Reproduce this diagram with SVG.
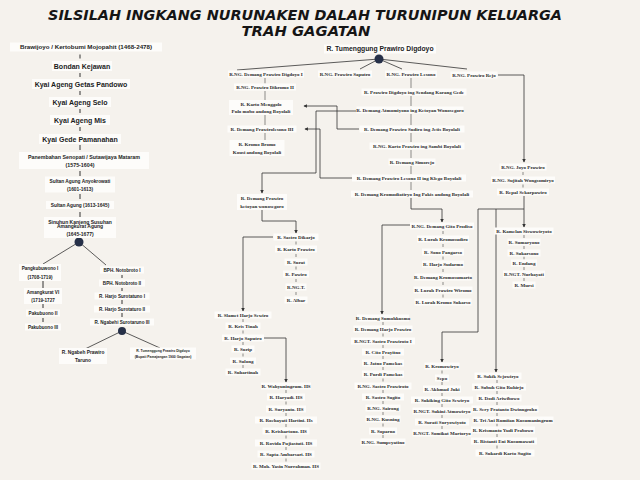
<svg xmlns="http://www.w3.org/2000/svg" width="640" height="480" viewBox="0 0 640 480">
<defs>
<style>
.b{fill:#fdfcfa}
.s{font-family:"Liberation Serif",serif;font-size:5px;font-weight:bold;fill:#2a2a2a;text-anchor:middle}
.l{font-family:"Liberation Sans",Arial,sans-serif;font-weight:bold;fill:#1c1c1c;text-anchor:middle}
.c{stroke:#333;stroke-width:0.8;fill:none}
.a{marker-end:url(#ah)}
.t{stroke:#444;stroke-width:0.6;fill:none}
.tk{stroke:#333;stroke-width:1;fill:none}
.d{fill:#263048}
.ti{font-family:"DejaVu Sans",sans-serif;font-weight:bold;font-style:italic;font-size:14px;fill:#151515;text-anchor:middle}
</style>
<marker id="ah" viewBox="0 0 6 6" refX="5" refY="3" markerUnits="userSpaceOnUse" markerWidth="3.5" markerHeight="3.5" orient="auto"><path d="M0,0 L6,3 L0,6 z" fill="#333"/></marker>
</defs>
<rect width="640" height="480" fill="#f5f2ed"/>
<g id="title">
<text class="ti" x="305" y="20" textLength="514" lengthAdjust="spacingAndGlyphs">SILSILAH INGKANG NURUNAKEN DALAH TURUNIPUN KELUARGA</text>
<text class="ti" x="306" y="36" textLength="129" lengthAdjust="spacingAndGlyphs">TRAH GAGATAN</text>
</g>
<g id="connectors">
<path class="tk" d="M80,54.5V58.5M80,73V77M80,91V95M80,109V113M80,127V131M80,145V150M80,171V176M80,194V199M80,212V217M43,281V288M43,304V308M43,318V322M122,275V278M122,288V291M122,300V304M122,313V317"/>
<path class="c" d="M79,242L43,264M79,242L106,265M122,331L85,349M122,331L160,348"/>
<path class="c" d="M379,59L237,70M379,59L360,69M379,59L402,69M379,59L467,69"/>
<path class="t" d="M411,78V88M411,96V106M411,114V125M411,133V142M411,150V158M411,166V174M411,182V190M265,78V83.5M265,91V100M265,115V125M265,133V140"/>
<path class="t" d="M443,231V234M443,244V247M443,256.5V259.5M443,269V272M443,282V285M443,294.5V297.5M523,172V175M523,184.5V187.5M524,235V238M524,246V249M524,256.5V259.5M524,267V270M524,278V281M442,370.5V373.5M442,382V385M442,393V396M442,404V407M442,415V418M442,426V429M497,380V383M497,391V394M497,402V405M497,413V416M497,423.5V426.5M497,434V437M497,445.5V448.5M296,241.5V244.5M296,254V257M296,266.5V269.5M296,279V282M296,292V295M243,319V322M243,330.5V333.5M243,342V345M243,353.5V356.5M243,365V368M286,390V393M286,401.5V404.5M286,413V416M286,424V427M286,435.5V438.5M286,447V450M286,458.5V461.5M383,322V325M383,333.5V336.5M383,345V348M383,356V359M383,367V370M383,378.5V381.5M383,390V393M383,401V404M383,412V415M383,423.5V426.5M383,435V438"/>
<path class="c a" d="M498,75H524V162"/>
<path class="c a" d="M359,129H337V106H304"/>
<path class="c a" d="M356,111H316V173H262V193"/>
<path class="c a" d="M352,178H320V129H305"/>
<path class="c a" d="M411,198V209H442V222"/>
<path class="c a" d="M410,225H382V314"/>
<path class="c a" d="M524,196V227"/>
<path class="c" d="M478,209H524"/>
<path class="c a" d="M478,209V332H442V362"/>
<path class="c a" d="M496,209V372"/>
<path class="c a" d="M262,210V221H296V233"/>
<path class="c a" d="M273,237H243V311"/>
<path class="c a" d="M264,338H286V382"/>
<circle class="d" cx="79" cy="242" r="4.5"/>
<circle class="d" cx="122" cy="331" r="4"/>
<circle class="d" cx="379" cy="59" r="4.5"/>
</g>
<g id="l1"><rect class="b" x="10" y="42.5" width="152" height="9"/><text class="l" font-size="6.2" x="86" y="49.2">Brawijoyo / Kertobumi Mojopahit (1468-2478)</text></g>
<g id="l2"><rect class="b" x="52" y="61" width="60" height="10"/><text class="l" font-size="7" x="82" y="68.5">Bondan Kejawan</text></g>
<g id="l3"><rect class="b" x="32" y="79" width="98" height="10"/><text class="l" font-size="7" x="81" y="86.5">Kyai Ageng Getas Pandowo</text></g>
<g id="l4"><rect class="b" x="49" y="97" width="62" height="10"/><text class="l" font-size="7" x="80" y="104.5">Kyai Ageng Selo</text></g>
<g id="l5"><rect class="b" x="50" y="115" width="60" height="10"/><text class="l" font-size="7" x="80" y="122.5">Kyai Ageng Mis</text></g>
<g id="l6"><rect class="b" x="39" y="134" width="82" height="10"/><text class="l" font-size="7" x="80" y="141.5">Kyai Gede Pamanahan</text></g>
<g id="l7"><rect class="b" x="19" y="152" width="130" height="17"/><text class="l" font-size="5.3" x="84" y="159">Panembahan Senopati / Sutawijaya Mataram</text><text class="l" font-size="5.3" x="80" y="167">(1575-1604)</text></g>
<g id="l8"><rect class="b" x="45" y="176.5" width="70" height="16"/><text class="l" font-size="4.8" x="80" y="182.7">Sultan Agung Anyokrowati</text><text class="l" font-size="4.8" x="80" y="190.7">(1601-1613)</text></g>
<g id="l9"><rect class="b" x="46" y="201" width="68" height="8"/><text class="l" font-size="4.8" x="80" y="206.7">Sultan Agung (1613-1645)</text></g>
<g id="l10"><rect class="b" x="44" y="217" width="72" height="21"/><text class="l" font-size="5" x="80" y="223.7">Sinuhun Kanjeng Susuhan</text><text class="l" font-size="5" x="80" y="228.2">Amangkurat Agung</text><text class="l" font-size="5" x="80" y="235.7">(1645-1677)</text></g>
<g id="l11"><rect class="b" x="19" y="264" width="42" height="17"/><text class="l" font-size="4.6" x="40" y="269.6">Pangkubuwono I</text><text class="l" font-size="4.6" x="40" y="278.6">(1708-1719)</text></g>
<g id="l12"><rect class="b" x="24" y="288" width="38" height="16"/><text class="l" font-size="4.6" x="43" y="293.6">Amangkurat VI</text><text class="l" font-size="4.6" x="43" y="301.6">(1719-1727</text></g>
<g id="l13"><rect class="b" x="26" y="309.5" width="34" height="7"/><text class="l" font-size="4.6" x="43" y="314.6">Pakubuono II</text></g>
<g id="l14"><rect class="b" x="25" y="323.5" width="36" height="7"/><text class="l" font-size="4.6" x="43" y="328.6">Pakubuono III</text></g>
<g id="r11"><rect class="b" x="100" y="266.5" width="44" height="7"/><text class="l" font-size="4.6" x="122" y="271.6">BPH. Notobroto I</text></g>
<g id="r12"><rect class="b" x="99" y="279.5" width="46" height="7"/><text class="l" font-size="4.6" x="122" y="284.6">BPH. Notobroto II</text></g>
<g id="r13"><rect class="b" x="94.5" y="292.5" width="55" height="7"/><text class="l" font-size="4.6" x="122" y="297.6">R. Harjo Surotatuno I</text></g>
<g id="r14"><rect class="b" x="94" y="305.5" width="56" height="7"/><text class="l" font-size="4.6" x="122" y="310.6">R. Harjo Surotaturo II</text></g>
<g id="r15"><rect class="b" x="90" y="318.5" width="64" height="7"/><text class="l" font-size="4.6" x="122" y="323.6">R. Ngabehi Surotaruno III</text></g>
<g id="r16"><rect class="b" x="59" y="348" width="48" height="16"/><text class="l" font-size="4.8" x="83" y="353.7">R. Ngabeh Prawiro</text><text class="l" font-size="4.8" x="83" y="361.7">Taruno</text></g>
<g id="r17"><rect class="b" x="130" y="347.5" width="66" height="12"/><text class="l" font-size="3.4" x="163" y="352.2">R. Tumenggung Prawiro Digdoyo</text><text class="l" font-size="3.4" x="163" y="358.2">(Bupati Pamajangan 1900 Gagatan)</text></g>
<g id="top"><rect class="b" x="324" y="44.5" width="112" height="9"/><text class="l" font-size="6.8" x="380" y="51.4">R. Tumenggung Prawiro Digdoyo</text></g>
<g id="a1"><rect class="b" x="228" y="70.5" width="76" height="7"/><text class="s" x="266" y="75.8">R.NG. Demang Prawiro Digdoyo I</text></g>
<g id="b1"><rect class="b" x="318" y="70.5" width="54" height="7"/><text class="s" x="345" y="75.8">R.NG. Prawiro Saputro</text></g>
<g id="c1"><rect class="b" x="385" y="70.5" width="52" height="7"/><text class="s" x="411" y="75.8">R.NG. Prawiro Lesono</text></g>
<g id="d1"><rect class="b" x="450.5" y="71.5" width="47" height="7"/><text class="s" x="474" y="76.8">R.NG. Prawiro Rejo</text></g>
<g id="a2"><rect class="b" x="234" y="83.5" width="62" height="7"/><text class="s" x="265" y="88.8">R.NG. Prawiro Dikromo II</text></g>
<g id="a3"><rect class="b" x="229" y="100" width="64" height="15"/><text class="s" x="261" y="105.8">R. Karto Menggolo</text><text class="s" x="261" y="112.8">Pulo mobo andong Boyolali</text></g>
<g id="a4"><rect class="b" x="227.5" y="125.5" width="69" height="7"/><text class="s" x="262" y="130.8">R. Demang Prawirolesono III</text></g>
<g id="a5"><rect class="b" x="229.5" y="140" width="55" height="16"/><text class="s" x="257" y="145.8">R. Kromo Bromo</text><text class="s" x="257" y="153.8">Kousi andong Boyolali</text></g>
<g id="c2"><rect class="b" x="361.5" y="88.5" width="105" height="7"/><text class="s" x="414" y="93.8">R. Prawiro Digdoyo ing Sendang Karang Gede</text></g>
<g id="c3"><rect class="b" x="356.5" y="106.5" width="107" height="7"/><text class="s" x="410" y="111.8">R. Demang Atmomiyono ing Ketoyan Wonosegoro</text></g>
<g id="c4"><rect class="b" x="359.5" y="125.5" width="105" height="7"/><text class="s" x="412" y="130.8">R. Demang Prawiro Sudiro ing Jetis Boyolali</text></g>
<g id="c5"><rect class="b" x="369.5" y="142.5" width="95" height="7"/><text class="s" x="417" y="147.8">R.NG. Karto Prawiro ing Sambi Boyolali</text></g>
<g id="c6"><rect class="b" x="388.5" y="158.5" width="47" height="7"/><text class="s" x="412" y="163.8">R. Demang Simorejo</text></g>
<g id="c7"><rect class="b" x="352" y="174.5" width="114" height="7"/><text class="s" x="409" y="179.8">R. Demang Prawiro Lesono II ing Klego Boyolali</text></g>
<g id="c8"><rect class="b" x="351" y="190.5" width="122" height="7"/><text class="s" x="412" y="195.8">R. Demang Kromodiatiryo Ing Pakis andong Boyolali</text></g>
<g id="g1"><rect class="b" x="410" y="222.5" width="64" height="7"/><text class="s" x="442" y="227.8">R.NG. Demang Gito Prodiso</text></g>
<g id="g2"><rect class="b" x="417" y="235.5" width="52" height="7"/><text class="s" x="443" y="240.8">R. Lurah Kromosudiro</text></g>
<g id="g3"><rect class="b" x="422" y="248.5" width="42" height="7"/><text class="s" x="443" y="253.8">R. Sono Pangarso</text></g>
<g id="g4"><rect class="b" x="422" y="260.5" width="42" height="7"/><text class="s" x="443" y="265.8">R. Harjo Sudarmo</text></g>
<g id="g5"><rect class="b" x="414.5" y="273.5" width="57" height="7"/><text class="s" x="443" y="278.8">R. Demang Kromosumarto</text></g>
<g id="g6"><rect class="b" x="413.5" y="286.5" width="59" height="7"/><text class="s" x="443" y="291.8">R. Lurah Prawiro Wiromo</text></g>
<g id="g7"><rect class="b" x="414.5" y="298.5" width="57" height="7"/><text class="s" x="443" y="303.8">R. Lurah Kromo Sukarso</text></g>
<g id="j1"><rect class="b" x="499.5" y="163.5" width="47" height="7"/><text class="s" x="523" y="168.8">R.NG. Joyo Prawiro</text></g>
<g id="j2"><rect class="b" x="491" y="176.5" width="64" height="7"/><text class="s" x="523" y="181.8">R.NG. Sujitah Wongsomiryo</text></g>
<g id="j3"><rect class="b" x="497" y="188.5" width="52" height="7"/><text class="s" x="523" y="193.8">R. Repal Sekarpawiro</text></g>
<g id="k1"><rect class="b" x="494.5" y="227.5" width="59" height="7"/><text class="s" x="524" y="232.8">R. Kamelan Siswowiryoto</text></g>
<g id="k2"><rect class="b" x="507.5" y="238.5" width="33" height="7"/><text class="s" x="524" y="243.8">R. Sumaryono</text></g>
<g id="k3"><rect class="b" x="507.5" y="249.5" width="33" height="7"/><text class="s" x="524" y="254.8">R. Sukarsono</text></g>
<g id="k4"><rect class="b" x="511" y="259.5" width="26" height="7"/><text class="s" x="524" y="264.8">R. Endang</text></g>
<g id="k5"><rect class="b" x="503" y="270.5" width="42" height="7"/><text class="s" x="524" y="275.8">R.NGT. Nurhayati</text></g>
<g id="k6"><rect class="b" x="512.5" y="281.5" width="23" height="7"/><text class="s" x="524" y="286.8">R. Mursi</text></g>
<g id="m1"><rect class="b" x="424.5" y="362.5" width="35" height="7"/><text class="s" x="442" y="367.8">R. Kromowiryo</text></g>
<g id="m2"><rect class="b" x="435" y="374.5" width="14" height="7"/><text class="s" x="442" y="379.8">Sepo</text></g>
<g id="m3"><rect class="b" x="423" y="385.5" width="38" height="7"/><text class="s" x="442" y="390.8">R. Akhmad Juki</text></g>
<g id="m4"><rect class="b" x="411" y="396.5" width="62" height="7"/><text class="s" x="442" y="401.8">R. Sukiking Gito Sewiryo</text></g>
<g id="m5"><rect class="b" x="412.5" y="407.5" width="59" height="7"/><text class="s" x="442" y="412.8">R.NGT. Sukini Atmowiryo</text></g>
<g id="m6"><rect class="b" x="415" y="418.5" width="54" height="7"/><text class="s" x="442" y="423.8">R. Surati Suryowiyoto</text></g>
<g id="m7"><rect class="b" x="412.5" y="429.5" width="59" height="7"/><text class="s" x="442" y="434.8">R.NGT. Somikat Martoryo</text></g>
<g id="p1"><rect class="b" x="474.5" y="372.5" width="47" height="7"/><text class="s" x="498" y="377.8">R. Sukik Sejowiryo</text></g>
<g id="p2"><rect class="b" x="472" y="383.5" width="54" height="7"/><text class="s" x="499" y="388.8">R. Subuh Gito Ruhirjo</text></g>
<g id="p3"><rect class="b" x="476.5" y="394.5" width="45" height="7"/><text class="s" x="499" y="399.8">R. Dodi Ariwibowo</text></g>
<g id="p4"><rect class="b" x="471.5" y="405.5" width="67" height="7"/><text class="s" x="505" y="410.8">R. Sery Pratanto Dwinugroho</text></g>
<g id="p5"><rect class="b" x="472.5" y="416.5" width="81" height="7"/><text class="s" x="513" y="421.8">R. Tri Ani Rumiian Kusumaningrum</text></g>
<g id="p6"><rect class="b" x="471" y="426.5" width="64" height="7"/><text class="s" x="503" y="431.8">R. Krismanto Yudi Prabowo</text></g>
<g id="p7"><rect class="b" x="471" y="437.5" width="66" height="7"/><text class="s" x="504" y="442.8">R. Ristanti Eni Kusumawati</text></g>
<g id="p8"><rect class="b" x="475.5" y="449.5" width="59" height="7"/><text class="s" x="505" y="454.8">R. Sukardi Karto Sugito</text></g>
<g id="s1"><rect class="b" x="237" y="194" width="50" height="16"/><text class="s" x="262" y="199.8">R. Demang Prawiro</text><text class="s" x="262" y="207.8">ketoyan wonosegoro</text></g>
<g id="s2"><rect class="b" x="273.5" y="233.5" width="45" height="7"/><text class="s" x="296" y="238.8">R. Sastro Dikarjo</text></g>
<g id="s3"><rect class="b" x="275" y="245.5" width="42" height="7"/><text class="s" x="296" y="250.8">R. Karto Prawiro</text></g>
<g id="s4"><rect class="b" x="284.5" y="258.5" width="23" height="7"/><text class="s" x="296" y="263.8">R. Surat</text></g>
<g id="s5"><rect class="b" x="283" y="270.5" width="26" height="7"/><text class="s" x="296" y="275.8">R. Pawiro</text></g>
<g id="s6"><rect class="b" x="285.5" y="283.5" width="21" height="7"/><text class="s" x="296" y="288.8">R.NG.T.</text></g>
<g id="s7"><rect class="b" x="284.5" y="296.5" width="23" height="7"/><text class="s" x="296" y="301.8">R. Albar</text></g>
<g id="t1"><rect class="b" x="214.5" y="311.5" width="57" height="7"/><text class="s" x="243" y="316.8">R. Slamet Harjo Sewiro</text></g>
<g id="t2"><rect class="b" x="225.5" y="322.5" width="35" height="7"/><text class="s" x="243" y="327.8">R. Kris Tinah</text></g>
<g id="t3"><rect class="b" x="222" y="334.5" width="42" height="7"/><text class="s" x="243" y="339.8">R. Harjo Saputro</text></g>
<g id="t4"><rect class="b" x="231.5" y="345.5" width="23" height="7"/><text class="s" x="243" y="350.8">R. Surip</text></g>
<g id="t5"><rect class="b" x="230" y="357.5" width="26" height="7"/><text class="s" x="243" y="362.8">R. Sulong</text></g>
<g id="t6"><rect class="b" x="225.5" y="368.5" width="35" height="7"/><text class="s" x="243" y="373.8">R. Suhartinah</text></g>
<g id="h1"><rect class="b" x="261" y="382.5" width="50" height="7"/><text class="s" x="286" y="387.8">R. Wahyuningrum. HS</text></g>
<g id="h2"><rect class="b" x="267" y="393.5" width="38" height="7"/><text class="s" x="286" y="398.8">R. Haryadi. HS</text></g>
<g id="h3"><rect class="b" x="266" y="405.5" width="40" height="7"/><text class="s" x="286" y="410.8">R. Suryanto. HS</text></g>
<g id="h4"><rect class="b" x="255" y="416.5" width="62" height="7"/><text class="s" x="286" y="421.8">R. Rochayati Hartini. Hs</text></g>
<g id="h5"><rect class="b" x="262.5" y="427.5" width="47" height="7"/><text class="s" x="286" y="432.8">R. Krishartono. HS</text></g>
<g id="h6"><rect class="b" x="255" y="439.5" width="62" height="7"/><text class="s" x="286" y="444.8">R. Rovida Pujiastuti. HS</text></g>
<g id="h7"><rect class="b" x="257.5" y="450.5" width="57" height="7"/><text class="s" x="286" y="455.8">R. Sapta Ambarsari. HS</text></g>
<g id="h8"><rect class="b" x="251.5" y="462.5" width="69" height="7"/><text class="s" x="286" y="467.8">R. Moh. Yasin Nurrahman. HS</text></g>
<g id="u1"><rect class="b" x="357" y="314.5" width="52" height="7"/><text class="s" x="383" y="319.8">R. Demang Sumohkusmo</text></g>
<g id="u2"><rect class="b" x="353.5" y="325.5" width="59" height="7"/><text class="s" x="383" y="330.8">R. Demang Harjo Prawiro</text></g>
<g id="u3"><rect class="b" x="351" y="337.5" width="64" height="7"/><text class="s" x="383" y="342.8">R.NGT. Sastro Prawiroto I</text></g>
<g id="u4"><rect class="b" x="362" y="348.5" width="42" height="7"/><text class="s" x="383" y="353.8">R. Cito Prayitno</text></g>
<g id="u5"><rect class="b" x="362" y="359.5" width="42" height="7"/><text class="s" x="383" y="364.8">R. Jatno Pamekas</text></g>
<g id="u6"><rect class="b" x="362" y="370.5" width="42" height="7"/><text class="s" x="383" y="375.8">R. Purdi Pamekas</text></g>
<g id="u7"><rect class="b" x="354.5" y="382.5" width="57" height="7"/><text class="s" x="383" y="387.8">R.NG. Sastro Prawiroto</text></g>
<g id="u8"><rect class="b" x="362" y="393.5" width="42" height="7"/><text class="s" x="383" y="398.8">R. Sastro Sugito</text></g>
<g id="u9"><rect class="b" x="365.5" y="404.5" width="35" height="7"/><text class="s" x="383" y="409.8">R.NG. Sairong</text></g>
<g id="u10"><rect class="b" x="365.5" y="415.5" width="35" height="7"/><text class="s" x="383" y="420.8">R.NG. Kusning</text></g>
<g id="u11"><rect class="b" x="369" y="427.5" width="28" height="7"/><text class="s" x="383" y="432.8">R. Soparno</text></g>
<g id="u12"><rect class="b" x="360.5" y="438.5" width="45" height="7"/><text class="s" x="383" y="443.8">R.NG. Sumpeyatino</text></g>
</svg>
